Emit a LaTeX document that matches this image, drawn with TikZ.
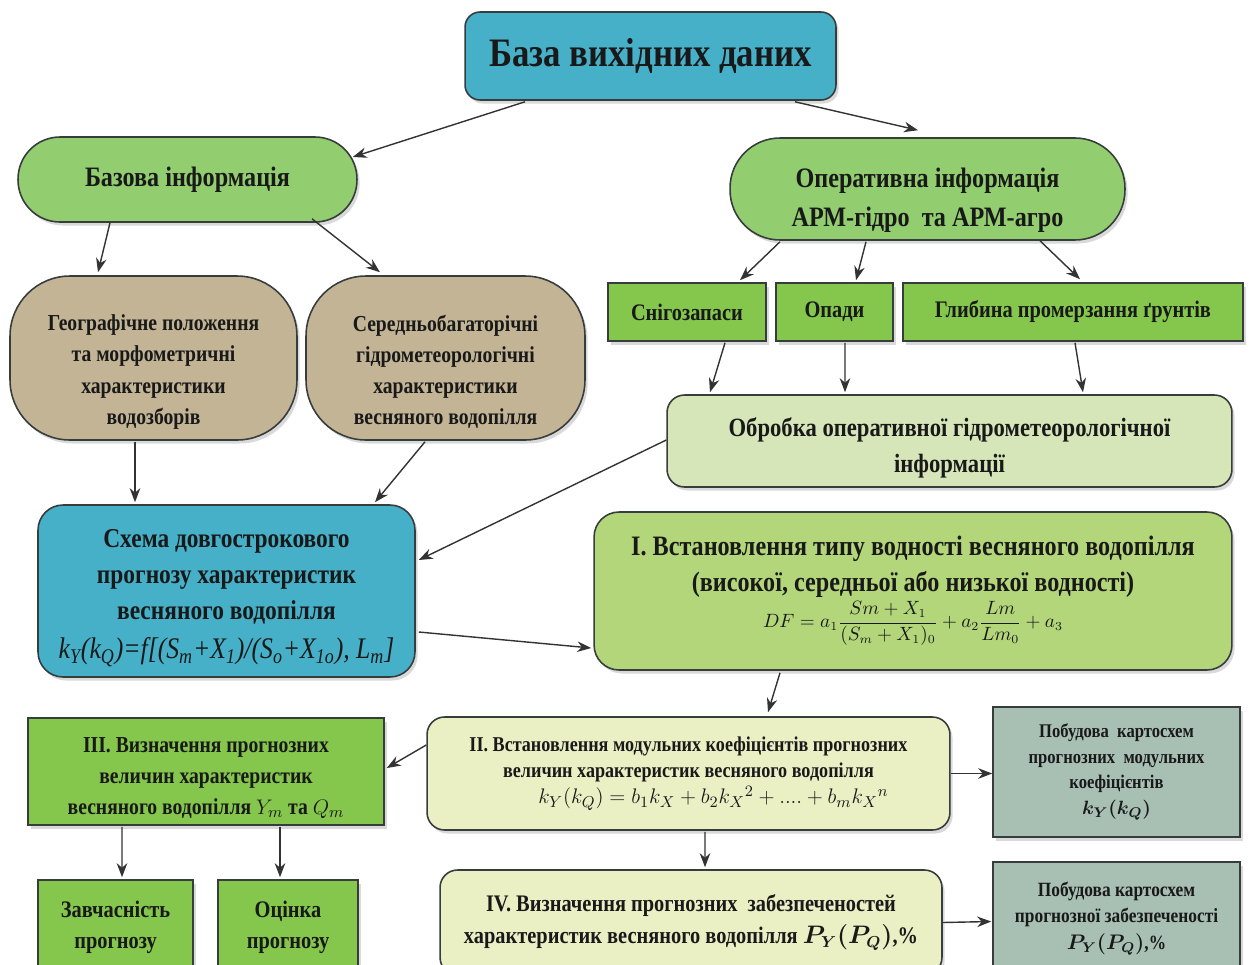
\documentclass[tikz,border=0pt]{standalone}
\usepackage{amsmath}
\usepackage{fontspec}
\setmainfont{Liberation Serif}[FakeStretch=0.86]
\usetikzlibrary{calc,arrows.meta,shadows}
\definecolor{aquablue}{RGB}{70,176,200}
\definecolor{ovalgreen}{RGB}{146,206,112}
\definecolor{sandtan}{RGB}{194,180,148}
\definecolor{leafgreen}{RGB}{132,199,76}
\definecolor{palegreen}{RGB}{214,230,184}
\definecolor{limegreen}{RGB}{180,214,122}
\definecolor{paleyellow}{RGB}{234,240,196}
\definecolor{sage}{RGB}{168,192,180}
\definecolor{boxline}{RGB}{55,60,60}
\newcommand{\sub}[1]{\textsubscript{#1}}
\tikzset{>={Stealth[length=8pt,width=6pt]},
  box/.style={draw=boxline,line width=0.9pt,align=center,inner sep=2pt,text=black!90,
    drop shadow={shadow xshift=1.5pt,shadow yshift=-2pt,opacity=0.3}},
  arr/.style={->,draw=black!80,line width=0.8pt}}

\begin{document}
\begin{tikzpicture}[x=0.02cm,y=-0.02cm]
    \useasboundingbox (0,0) rectangle (1251,964);
    \clip (0,0) rectangle (1251,964);
    \node[box,fill=aquablue,rounded corners=0.3cm,minimum width=7.42cm,minimum height=1.76cm,
      font=\bfseries\fontsize{23}{27}\selectfont] (base) at (650.5,56) {База вихідних даних};
    \node[box,fill=ovalgreen,rounded corners=0.84cm,minimum width=6.78cm,minimum height=1.70cm,
      font=\bfseries\fontsize{16}{20}\selectfont] (basic) at (187.5,179.5) {Базова інформація};
    \node[box,fill=ovalgreen,rounded corners=1.0cm,minimum width=7.90cm,minimum height=2.04cm,
      font=\bfseries\fontsize{16}{22}\selectfont] (oper) at (927.5,189) {\rule{0pt}{24pt}Оперативна інформація\\АРМ-гідро\ \ та АРМ-агро};
    \node[box,fill=sandtan,rounded corners=1.2cm,minimum width=5.74cm,minimum height=3.28cm,
      font=\bfseries\fontsize{13}{17.8}\selectfont] (geo) at (153.5,358) {\rule{0pt}{25pt}Географічне положення\\та морфометричні\\характеристики\\водозборів};
    \node[box,fill=sandtan,rounded corners=1.2cm,minimum width=5.58cm,minimum height=3.28cm,
      font=\bfseries\fontsize{13}{17.8}\selectfont] (clim) at (445.5,358) {\rule{0pt}{25pt}Середньобагаторічні\\гідрометеорологічні\\характеристики\\весняного водопілля};
    \node[box,fill=leafgreen,minimum width=3.16cm,minimum height=1.16cm,
      font=\bfseries\fontsize{13.5}{17}\selectfont] (snow) at (687,312) {Снігозапаси};
    \node[box,fill=leafgreen,minimum width=2.34cm,minimum height=1.16cm,
      font=\bfseries\fontsize{13.5}{17}\selectfont] (prec) at (834.5,312) {Опади};
    \node[box,fill=leafgreen,minimum width=6.80cm,minimum height=1.16cm,
      font=\bfseries\fontsize{13.5}{17}\selectfont] (frost) at (1073,312) {Глибина промерзання ґрунтів};
    \node[box,fill=palegreen,rounded corners=0.35cm,minimum width=11.30cm,minimum height=1.84cm,
      font=\bfseries\fontsize{15}{20.5}\selectfont] (proc) at (949.5,441) {\rule{0pt}{18pt}Обробка оперативної гідрометеорологічної\\інформації};
    \node[box,fill=aquablue,rounded corners=0.5cm,minimum width=7.54cm,minimum height=3.44cm,
      font=\bfseries\fontsize{15.5}{20.5}\selectfont] (scheme) at (226.5,591) {\rule{0pt}{18pt}Схема довгострокового\\прогнозу характеристик\\весняного водопілля\\[2pt]
      \mdseries\itshape\fontsize{17}{20}\selectfont k\sub{Y}(k\sub{Q})=f[(S\sub{m}+X\sub{1})/(S\sub{o}+X\sub{1o}), L\sub{m}]};
    \node[box,fill=limegreen,rounded corners=0.5cm,minimum width=12.76cm,minimum height=3.16cm,
      font=\bfseries\fontsize{16}{20.5}\selectfont] (stepone) at (913,591) {I. Встановлення типу водності весняного водопілля\\(високої, середньої або низької водності)\\
      \mdseries\fontsize{10.5}{12}\selectfont $\displaystyle DF=a_1\frac{Sm+X_1}{(S_m+X_1)_0}+a_2\frac{Lm}{Lm_0}+a_3$};
    \node[box,fill=leafgreen,minimum width=7.12cm,minimum height=2.14cm,
      font=\bfseries\fontsize{13}{17.5}\selectfont] (stepthree) at (206,771.5) {\rule{0pt}{16pt}III. Визначення прогнозних\\величин характеристик\\весняного водопілля $Y_m$ та $Q_m$};
    \node[box,fill=paleyellow,rounded corners=0.35cm,minimum width=10.46cm,minimum height=2.26cm,
      font=\bfseries\fontsize{12}{15}\selectfont] (steptwo) at (688.5,773.5) {II. Встановлення модульних коефіцієнтів прогнозних\\величин характеристик весняного водопілля\\
      \mdseries\fontsize{12.5}{16}\selectfont\hspace*{1cm}$k_Y(k_Q)=b_1k_X+b_2k_X{}^2+....+b_mk_X{}^n$};
    \node[box,fill=sage,minimum width=4.94cm,minimum height=2.60cm,
      font=\bfseries\fontsize{11}{14.5}\selectfont] (mapk) at (1116.5,772) {Побудова\ \ картосхем\\прогнозних\ \ модульних\\коефіцієнтів\\$\boldsymbol{k_Y(k_Q)}$};
    \node[box,fill=leafgreen,minimum width=3.10cm,minimum height=1.90cm,
      font=\bfseries\fontsize{13.5}{18}\selectfont] (lead) at (115.5,927.5) {Завчасність\\прогнозу};
    \node[box,fill=leafgreen,minimum width=2.80cm,minimum height=1.90cm,
      font=\bfseries\fontsize{13.5}{18}\selectfont] (score) at (288,927.5) {Оцінка\\прогнозу};
    \node[box,fill=paleyellow,rounded corners=0.35cm,minimum width=10.04cm,minimum height=2.10cm,
      font=\bfseries\fontsize{13.5}{18.5}\selectfont] (stepfour) at (691,922.5) {IV. Визначення прогнозних\ \ забезпеченостей\\характеристик весняного водопілля $\boldsymbol{P_Y(P_Q)}$,\%};
    \node[box,fill=sage,minimum width=4.94cm,minimum height=2.26cm,
      font=\bfseries\fontsize{11.5}{15}\selectfont] (mapp) at (1116.5,918.5) {Побудова картосхем\\прогнозної забезпеченості\\$\boldsymbol{P_Y(P_Q)}$,\%};
    \draw[arr] ($(base.south)+(-125.5,1)$) -- ($(basic.east)+(-5,-22.5)$);
    \draw[arr] ($(base.south)+(144.5,1)$) -- ($(oper.north)+(-9.5,-7)$);
    \draw[arr] ($(basic.south)+(-77.5,0)$) -- ($(geo.north)+(-55.5,-3)$);
    \draw[arr] ($(basic.south)+(124.5,-4)$) -- ($(clim.north)+(-65.5,-3)$);
    \draw[arr] ($(oper.south)+(-147.5,1)$) -- ($(snow.north)+(53,-2)$);
    \draw[arr] ($(oper.south)+(-61.5,1)$) -- ($(prec.north)+(21.5,-2)$);
    \draw[arr] ($(oper.south)+(112.5,0)$) -- ($(frost.north)+(7,-3)$);
    \draw[arr] ($(snow.south)+(38,1)$) -- ($(proc.north)+(-239.5,-2)$);
    \draw[arr] ($(prec.south)+(10.5,1)$) -- ($(proc.north)+(-104.5,-2)$);
    \draw[arr] ($(frost.south)+(2,1)$) -- ($(proc.north)+(133.5,-2)$);
    \draw[arr] ($(geo.south)+(-18.5,1)$) -- ($(scheme.north)+(-91.5,-2)$);
    \draw[arr] ($(clim.south)+(-20.5,1)$) -- ($(scheme.north)+(148.5,-2)$);
    \draw[arr] ($(proc.west)+(0,-1)$) -- ($(scheme.east)+(3,-31)$);
    \draw[arr] ($(scheme.east)+(3,41)$) -- ($(stepone.west)+(-2,57)$);
    \draw[arr] ($(stepone.south)+(-133,2)$) -- ($(steptwo.north)+(79.5,-4)$);
    \draw[arr] ($(steptwo.west)+(0,-28.5)$) -- ($(stepthree.east)+(2,-3.5)$);
    \draw[arr] (steptwo.east) -- (mapk.west |- steptwo.east);
    \draw[arr] ($(steptwo.south)+(16.5,1)$) -- ($(stepfour.north)+(14,-2)$);
    \draw[arr] ($(stepthree.south)+(-84,1)$) -- ($(lead.north)+(6.5,-2)$);
    \draw[arr] ($(stepthree.south)+(74,1)$) -- ($(score.north)+(-8,-2)$);
    \draw[arr] (stepfour.east) -- ($(mapp.west)+(-1,3)$);
  \end{tikzpicture}
\end{document}
